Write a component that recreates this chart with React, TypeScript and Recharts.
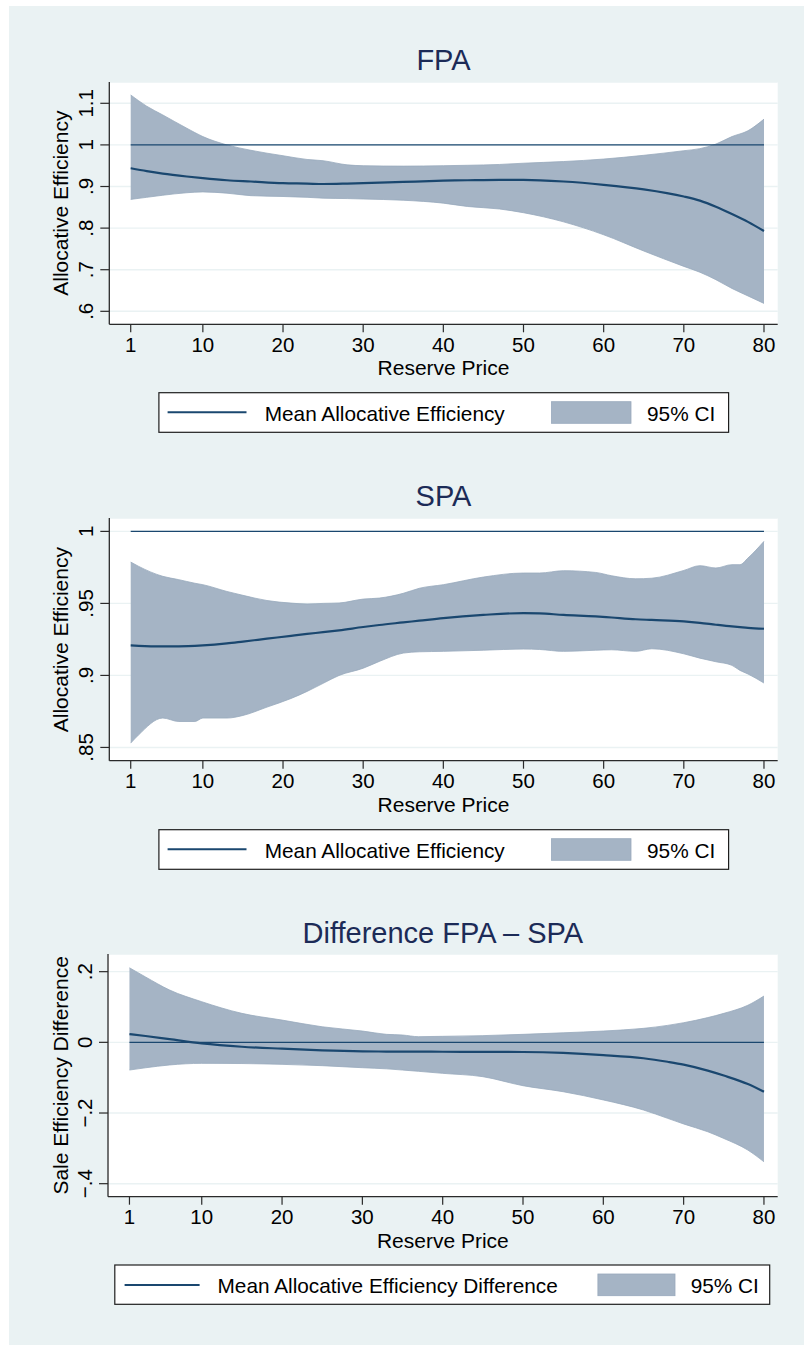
import React from 'react';
import { ComposedChart, Area, Line, XAxis, YAxis, CartesianGrid, ReferenceLine } from 'recharts';

// ---------------- Data ----------------
const reservePriceTicks = [1, 10, 20, 30, 40, 50, 60, 70, 80];

// FPA panel
const fpaX = [1, 3, 5, 8, 10, 13, 16, 20, 23, 25, 28, 30, 35, 40, 43, 47, 50, 55, 60, 65, 70, 72, 74, 76, 78, 80];
const fpaUpper = [1.12, 1.093, 1.072, 1.04, 1.02, 1.0, 0.987, 0.974, 0.965, 0.962, 0.952, 0.95, 0.949, 0.95, 0.951, 0.953, 0.956, 0.96, 0.966, 0.975, 0.986, 0.991, 1.002, 1.02, 1.034, 1.062];
const fpaLower = [0.869, 0.874, 0.879, 0.885, 0.887, 0.884, 0.878, 0.876, 0.874, 0.872, 0.871, 0.87, 0.867, 0.86, 0.852, 0.846, 0.837, 0.815, 0.784, 0.745, 0.708, 0.694, 0.676, 0.655, 0.637, 0.619];
const fpaMean = [0.944, 0.937, 0.931, 0.924, 0.92, 0.915, 0.912, 0.908, 0.907, 0.906, 0.907, 0.908, 0.911, 0.914, 0.915, 0.916, 0.916, 0.912, 0.904, 0.893, 0.876, 0.866, 0.8515, 0.834, 0.815, 0.793];
const fpaYTicks = [0.6, 0.7, 0.8, 0.9, 1, 1.1];
const fpaYLabels = ['.6', '.7', '.8', '.9', '1', '1.1'];

// SPA panel
const spaX = [1, 2, 5, 7, 9, 10, 13, 15, 18, 21, 23, 25, 27, 30, 32, 35, 37, 40, 45, 50, 52, 55, 59, 61, 64, 66, 70, 72, 74, 76, 77, 78, 80];
const spaUpper = [0.9787, 0.9757, 0.9688, 0.9665, 0.964, 0.963, 0.9583, 0.9556, 0.952, 0.9502, 0.9496, 0.95, 0.9503, 0.953, 0.9537, 0.957, 0.9605, 0.963, 0.9683, 0.9711, 0.9711, 0.9727, 0.9715, 0.9692, 0.9671, 0.9675, 0.9729, 0.9762, 0.9746, 0.9769, 0.9769, 0.9815, 0.9931];
const spaLower = [0.853, 0.8588, 0.8704, 0.868, 0.868, 0.8704, 0.8704, 0.8722, 0.878, 0.884, 0.8889, 0.8945, 0.9, 0.905, 0.9097, 0.9155, 0.9164, 0.9167, 0.9175, 0.9183, 0.918, 0.9167, 0.9175, 0.9178, 0.9167, 0.9185, 0.915, 0.912, 0.9095, 0.907, 0.9035, 0.901, 0.8947];
const spaMean = [0.9208, 0.9205, 0.9201, 0.9202, 0.9205, 0.9208, 0.9222, 0.9235, 0.9255, 0.9275, 0.9288, 0.93, 0.9313, 0.9336, 0.935, 0.9368, 0.938, 0.9398, 0.942, 0.9433, 0.9431, 0.942, 0.941, 0.9402, 0.939, 0.9385, 0.9375, 0.9365, 0.9352, 0.934, 0.9335, 0.933, 0.9324];
const spaYTicks = [0.85, 0.9, 0.95, 1];
const spaYLabels = ['.85', '.9', '.95', '1'];

// Difference panel
const diffX = [1, 3, 6, 10, 15, 20, 25, 30, 33, 35, 37, 40, 45, 50, 55, 60, 65, 68, 70, 73, 75, 78, 80];
const diffUpper = [0.211, 0.185, 0.148, 0.115, 0.082, 0.063, 0.044, 0.032, 0.0226, 0.0207, 0.016, 0.017, 0.019, 0.0226, 0.027, 0.032, 0.0396, 0.048, 0.0555, 0.07, 0.082, 0.105, 0.131];
const diffLower = [-0.0784, -0.072, -0.064, -0.0595, -0.06, -0.0623, -0.066, -0.0718, -0.075, -0.0784, -0.082, -0.0877, -0.0972, -0.1227, -0.1397, -0.163, -0.1915, -0.215, -0.231, -0.253, -0.272, -0.305, -0.338];
const diffMean = [0.0235, 0.018, 0.009, -0.003, -0.0125, -0.018, -0.0227, -0.0255, -0.026, -0.0263, -0.0265, -0.0266, -0.027, -0.0274, -0.03, -0.036, -0.045, -0.055, -0.063, -0.08, -0.094, -0.118, -0.14];
const diffYTicks = [-0.4, -0.2, 0, 0.2];
const diffYLabels = ['\u2212.4', '\u2212.2', '0', '.2'];

// ---------------- Styles ----------------
const FONT = '"Liberation Sans", Arial, Helvetica, sans-serif';
const NAVY = '#1a476f';
const BAND = '#a5b4c5';
const BAND_EDGE = '#98a9bc';
const BG = '#eaf2f3';
const TITLE = '#1c2b57';
const AXIS = '#2a2a2a';

function buildRows(x: number[], lo: number[], hi: number[], mean: number[]) {
  return x.map((v, i) => ({ x: v, band: [lo[i], hi[i]], mean: mean[i] }));
}

type PanelProps = {
  rows: any[];
  plotTop: number;
  plotBottom: number;
  plotLeft: number;
  plotRight: number;
  yDomain: [number, number];
  yTicks: number[];
  yLabels: string[];
  refY: number;
};

function Panel({ rows, plotTop, plotBottom, plotLeft, plotRight, yDomain, yTicks, yLabels, refY }: PanelProps) {
  const chartTop = plotTop - 20;
  const height = plotBottom - chartTop + 60;
  const xTickBaseline = plotBottom - chartTop + 27.5;
  const yTickBaseX = plotLeft - 16;

  const renderXTick = (p: any) => (
    <text x={p.x} y={xTickBaseline} textAnchor="middle" fontSize={20.5} fontFamily={FONT} fill="#000">
      {p.payload.value}
    </text>
  );
  const renderYTick = (p: any) => {
    const idx = yTicks.findIndex((t) => Math.abs(t - p.payload.value) < 1e-9);
    const label = idx >= 0 ? yLabels[idx] : String(p.payload.value);
    return (
      <text
        x={yTickBaseX}
        y={p.y}
        transform={`rotate(-90 ${yTickBaseX} ${p.y})`}
        textAnchor="middle"
        fontSize={20.5}
        fontFamily={FONT}
        fill="#000"
      >
        {label}
      </text>
    );
  };

  return (
    <div style={{ position: 'absolute', left: 0, top: chartTop }}>
      <ComposedChart
        width={804}
        height={height}
        data={rows}
        margin={{ top: 20, right: 804 - plotRight, bottom: 0, left: 0 }}
      >
        <CartesianGrid vertical={false} horizontal fill="#ffffff" fillOpacity={1} stroke={BG} strokeWidth={1.4} />
        <XAxis
          dataKey="x"
          type="number"
          domain={[-1.67, 81.71]}
          ticks={reservePriceTicks}
          allowDataOverflow
          interval={0}
          height={60}
          tickSize={8}
          tickMargin={0}
          axisLine={{ stroke: AXIS, strokeWidth: 1.3 }}
          tickLine={{ stroke: AXIS, strokeWidth: 1.2 }}
          tick={renderXTick}
        />
        <YAxis
          type="number"
          domain={yDomain}
          ticks={yTicks}
          allowDataOverflow
          interval={0}
          width={plotLeft}
          tickSize={9}
          tickMargin={0}
          axisLine={{ stroke: AXIS, strokeWidth: 1.3 }}
          tickLine={{ stroke: AXIS, strokeWidth: 1.2 }}
          tick={renderYTick}
        />
        <Area
          dataKey="band"
          type="monotone"
          fill={BAND}
          fillOpacity={1}
          stroke={BAND_EDGE}
          strokeWidth={0.8}
          dot={false}
          activeDot={false}
          isAnimationActive={false}
        />
        <ReferenceLine
          segment={[{ x: 1, y: refY }, { x: 80, y: refY }]}
          stroke={NAVY}
          strokeWidth={1.3}
          ifOverflow="visible"
        />
        <Line
          dataKey="mean"
          type="monotone"
          stroke={NAVY}
          strokeWidth={2.2}
          dot={false}
          activeDot={false}
          isAnimationActive={false}
        />
      </ComposedChart>
    </div>
  );
}

type LegendProps = {
  box: [number, number, number, number];
  lineX: [number, number];
  lineY: number;
  textX: number;
  baseline: number;
  label: string;
  swatch: [number, number, number, number];
  ciX: number;
};

function LegendBox({ box, lineX, lineY, textX, baseline, label, swatch, ciX }: LegendProps) {
  return (
    <g>
      <rect x={box[0]} y={box[1]} width={box[2]} height={box[3]} fill="#ffffff" stroke="#1e1e1e" strokeWidth={1.2} />
      <line x1={lineX[0]} x2={lineX[1]} y1={lineY} y2={lineY} stroke={NAVY} strokeWidth={2} />
      <text x={textX} y={baseline} fontSize={20.8} fontFamily={FONT} fill="#000">{label}</text>
      <rect x={swatch[0]} y={swatch[1]} width={swatch[2]} height={swatch[3]} fill={BAND} stroke={BAND_EDGE} strokeWidth={0.8} />
      <text x={ciX} y={baseline} fontSize={20.8} fontFamily={FONT} fill="#000">95% CI</text>
    </g>
  );
}

const panels = [
  { plotTop: 82, plotBottom: 324.3, plotLeft: 109.3, plotRight: 777.7, title: 'FPA', titleBase: 70, yTitle: 'Allocative Efficiency' },
  { plotTop: 518.3, plotBottom: 761, plotLeft: 109.3, plotRight: 777.7, title: 'SPA', titleBase: 505.5, yTitle: 'Allocative Efficiency' },
  { plotTop: 954, plotBottom: 1196.7, plotLeft: 108, plotRight: 777.7, title: 'Difference FPA \u2013 SPA', titleBase: 942.7, yTitle: 'Sale Efficiency Difference' },
];

export default function App() {
  const fpaRows = buildRows(fpaX, fpaLower, fpaUpper, fpaMean);
  const spaRows = buildRows(spaX, spaLower, spaUpper, spaMean);
  const diffRows = buildRows(diffX, diffLower, diffUpper, diffMean);

  return (
    <div style={{ position: 'relative', width: 804, height: 1345, background: '#ffffff', overflow: 'hidden', fontFamily: FONT }}>
      <style>{'body{margin:0;}'}</style>
      <div style={{ position: 'absolute', left: 9, top: 6, width: 795, height: 1339, background: BG }} />

      <Panel rows={fpaRows} {...panels[0]} yDomain={[0.5688, 1.1512]} yTicks={fpaYTicks} yLabels={fpaYLabels} refY={1} />
      <Panel rows={spaRows} {...panels[1]} yDomain={[0.8408, 1.0093]} yTicks={spaYTicks} yLabels={spaYLabels} refY={1} />
      <Panel rows={diffRows} {...panels[2]} yDomain={[-0.4368, 0.25]} yTicks={diffYTicks} yLabels={diffYLabels} refY={0} />

      <svg width={804} height={1345} style={{ position: 'absolute', left: 0, top: 0, pointerEvents: 'none' }}>
        {panels.map((p, i) => {
          const cx = (p.plotLeft + p.plotRight) / 2;
          const cy = (p.plotTop + p.plotBottom) / 2;
          return (
            <g key={i}>
              <text x={cx} y={p.titleBase} textAnchor="middle" fontSize={29} fontFamily={FONT} fill={TITLE}>{p.title}</text>
              <text x={cx} y={p.plotBottom + 51} textAnchor="middle" fontSize={21} fontFamily={FONT} fill="#000">Reserve Price</text>
              <text x={68} y={cy} transform={`rotate(-90 68 ${cy})`} textAnchor="middle" fontSize={21} fontFamily={FONT} fill="#000">{p.yTitle}</text>
            </g>
          );
        })}
        <LegendBox box={[158.9, 392.7, 569.7, 39.6]} lineX={[167.6, 246.5]} lineY={412.3} textX={264.7} baseline={420.5} label="Mean Allocative Efficiency" swatch={[551.5, 401.7, 79.5, 21.6]} ciX={647} />
        <LegendBox box={[158.9, 829.7, 569.7, 39.6]} lineX={[167.6, 246.5]} lineY={849.3} textX={264.7} baseline={857.5} label="Mean Allocative Efficiency" swatch={[551.5, 838.7, 79.5, 21.6]} ciX={647} />
        <LegendBox box={[114.8, 1265, 654.9, 39.3]} lineX={[124.6, 199.6]} lineY={1285} textX={217.5} baseline={1292.7} label="Mean Allocative Efficiency Difference" swatch={[597.9, 1274, 77.1, 21.7]} ciX={690.7} />
      </svg>
    </div>
  );
}
